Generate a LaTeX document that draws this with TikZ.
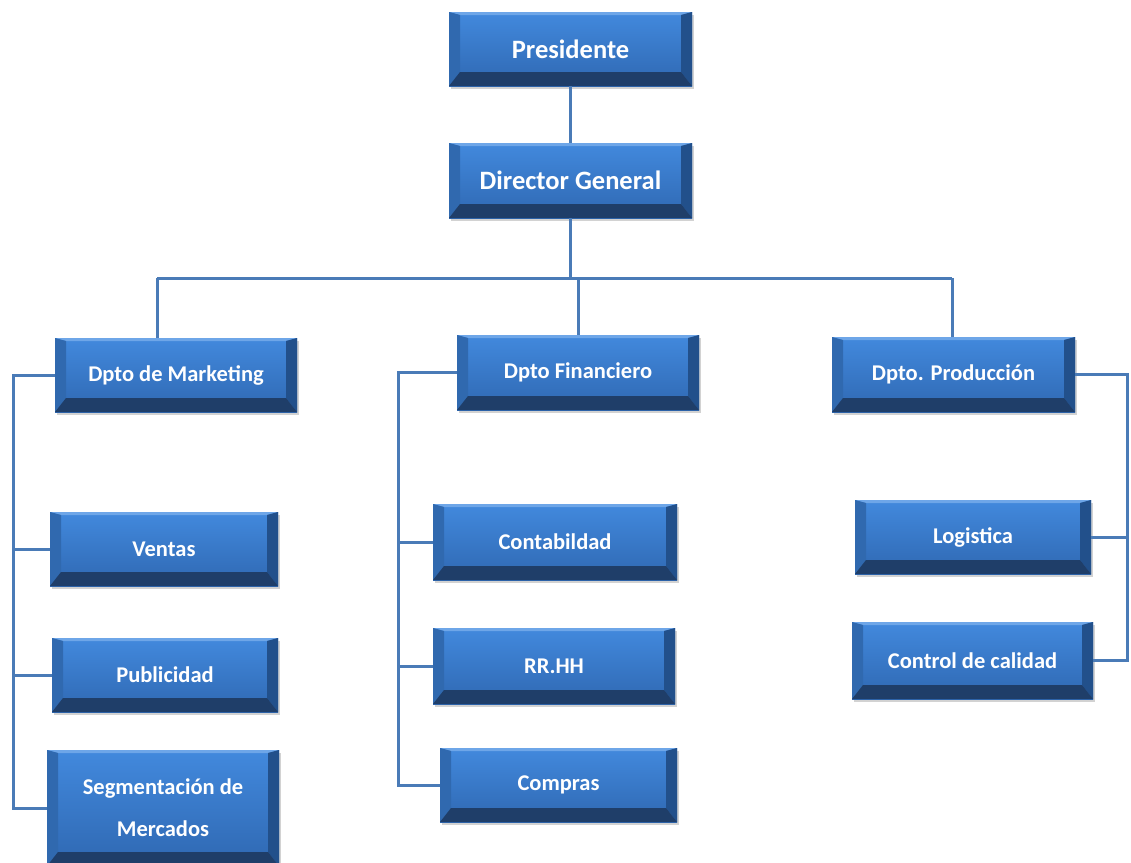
\documentclass[tikz,border=0pt]{standalone}
\usepackage{fontspec}
\setmainfont{Carlito}
\usetikzlibrary{shadows,calc}
\definecolor{facetop}{HTML}{4289DD}
\definecolor{facebot}{HTML}{2F68B2}
\definecolor{bevtop}{HTML}{6EA6E8}
\definecolor{bevleft}{HTML}{3069AF}
\definecolor{bevright}{HTML}{22508B}
\definecolor{bevbot}{HTML}{1F3E69}
\definecolor{linkblue}{HTML}{4A7BB7}
\tikzset{
  bevelbox/.style={rectangle, inner sep=0pt, text=white, align=center,
    font=\bfseries\fontsize{22.5}{42}\selectfont,
    top color=facetop, bottom color=facebot,
    drop shadow={opacity=0.35, shadow xshift=2pt, shadow yshift=-3pt},
    path picture={
      \coordinate (nw) at (path picture bounding box.north west);
      \coordinate (ne) at (path picture bounding box.north east);
      \coordinate (sw) at (path picture bounding box.south west);
      \coordinate (se) at (path picture bounding box.south east);
      \fill[bevtop] (nw) -- (ne) -- ([xshift=-11pt,yshift=-3pt]ne) -- ([xshift=11pt,yshift=-3pt]nw) -- cycle;
      \fill[bevleft] (nw) -- ([xshift=11pt,yshift=-3pt]nw) -- ([xshift=11pt,yshift=14pt]sw) -- (sw) -- cycle;
      \fill[bevright] (ne) -- ([xshift=-11pt,yshift=-3pt]ne) -- ([xshift=-11pt,yshift=14pt]se) -- (se) -- cycle;
      \fill[bevbot] (sw) -- ([xshift=11pt,yshift=14pt]sw) -- ([xshift=-11pt,yshift=14pt]se) -- (se) -- cycle;
    }},
  bigtext/.style={font=\bfseries\fontsize{26.5}{30}\selectfont},
  link/.style={draw=linkblue, line width=3pt}
}
% \bx{name}{x1}{y1}{x2}{y2}{options}{text}
\newcommand{\bx}[7]{%
  \node[bevelbox, #6, minimum width={(#4-#2)*1pt}, minimum height={(#5-#3)*1pt}]
    (#1) at ({(#2+#4)/2},{(#3+#5)/2}) {#7};}
\begin{document}
\begin{tikzpicture}[x=1pt, y=-1pt]
\useasboundingbox[fill=white] (0,0) rectangle (1131,862);

% junction points of the connector lines
\coordinate (busL) at (157,278);
\coordinate (busM) at (578,278);
\coordinate (busR) at (952,278);
\coordinate (mspine) at (13,375);
\coordinate (fspine) at (398,372);
\coordinate (pspine) at (1127,375);

% boxes
\bx{pres}{449}{12}{692}{86}{bigtext}{Presidente}
\bx{dir}{449}{143}{692}{218}{bigtext}{Director General}
\bx{mkt}{55}{338}{297}{412}{}{Dpto de Marketing}
\bx{fin}{457}{335}{699}{410}{}{Dpto Financiero}
\bx{prod}{832}{337}{1075}{412}{}{Dpto. Producción}
\bx{ven}{50}{512}{278}{586}{}{Ventas}
\bx{pub}{52}{638}{278}{712}{}{Publicidad}
\bx{seg}{47}{750}{279}{866}{}{Segmentación de\\Mercados}
\bx{cont}{433}{504}{677}{580}{}{Contabildad}
\bx{rrhh}{433}{628}{675}{704}{}{RR.HH}
\bx{comp}{440}{748}{677}{822}{}{Compras}
\bx{log}{855}{500}{1091}{574}{}{Logistica}
\bx{cal}{852}{622}{1093}{699}{}{Control de calidad}

% links
\draw[link] (pres.south) -- (dir.north);
\draw[link] (dir.south) -- (dir.south |- busM);
\draw[link] (busL) -- (busR);
\draw[link] (busL) -- (busL |- mkt.north);
\draw[link] (busM) -- (busM |- fin.north);
\draw[link] (busR) -- (busR |- prod.north);

\draw[link] (mkt.west) -- (mkt.west -| mspine) -- (mspine |- seg.west) -- (seg.west);
\draw[link] (mspine |- ven.west) -- (ven.west);
\draw[link] (mspine |- pub.west) -- (pub.west);

\draw[link] (fin.west) -- (fin.west -| fspine) -- (fspine |- comp.west) -- (comp.west);
\draw[link] (fspine |- cont.west) -- (cont.west);
\draw[link] (fspine |- rrhh.west) -- (rrhh.west);

\draw[link] (prod.east) -- (prod.east -| pspine) -- (pspine |- cal.east) -- (cal.east);
\draw[link] (pspine |- log.east) -- (log.east);
\end{tikzpicture}
\end{document}
